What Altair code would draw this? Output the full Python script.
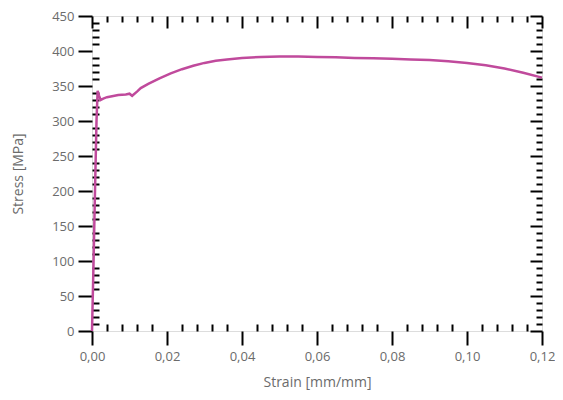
import altair as alt
import pandas as pd

strain = [0.0, 0.0004, 0.0008, 0.0012, 0.0015, 0.0019, 0.0023, 0.003, 0.004, 0.005, 0.007,
          0.009, 0.0100, 0.0107, 0.012, 0.013, 0.015, 0.018, 0.021, 0.024, 0.027, 0.030,
          0.033, 0.036, 0.040, 0.045, 0.050, 0.055, 0.060, 0.065, 0.070, 0.075, 0.080,
          0.085, 0.090, 0.095, 0.100, 0.105, 0.110, 0.115, 0.120]
stress = [0, 95, 200, 300, 343, 336, 330, 332, 334, 335, 337,
          338, 339, 336, 342, 347, 353, 361, 368, 374, 379, 383,
          386, 388, 390, 391.5, 392, 392, 391.5, 391, 390, 389.5, 389,
          388, 387, 385.5, 383, 379.5, 375, 369, 362]

x_major = [0.0, 0.02, 0.04, 0.06, 0.08, 0.10, 0.12]
x_minor = [round(i * 0.004, 3) for i in range(31) if i % 5 != 0]
y_major = list(range(0, 451, 50))
y_minor = [v for v in range(0, 451, 10) if v % 50 != 0]

df = pd.DataFrame({"strain": strain, "stress": stress})

W, H = 450, 315
LINE = "#c04a9c"
GREY = "#6b6b6b"
FONT = "Open Sans"

xs = alt.Scale(domain=[0, 0.12], nice=False, zero=False)
ys = alt.Scale(domain=[0, 450], nice=False)

def ax(orient, values, size, offset=0, labels=False, **kw):
    return alt.Axis(orient=orient, values=values, tickSize=size, offset=offset,
                    labels=labels, domain=False, grid=False, tickColor="black",
                    tickWidth=2, **kw)

x_main = ax("bottom", x_major, 14, labels=True, labelFlush=False, labelOverlap=False,
            labelExpr="replace(format(datum.value, '.2f'), '.', ',')",
            labelPadding=5, labelFont=FONT, labelFontSize=13, labelColor=GREY,
            title="Strain [mm/mm]", titleFont=FONT, titleFontSize=14,
            titleFontWeight="normal", titleColor=GREY, titleY=51,
            titleBaseline="middle")
y_main = ax("left", y_major, 14, labels=True, labelFlush=False, labelOverlap=False,
            labelPadding=4, labelFont=FONT,
            labelFontSize=13, labelColor=GREY, title="Stress [MPa]",
            titleFont=FONT, titleFontSize=14, titleFontWeight="normal",
            titleColor=GREY, titleX=-74, titleBaseline="middle")

base = alt.Chart(df)

line = base.mark_line(color=LINE, strokeWidth=2.5).encode(
    x=alt.X("strain:Q", scale=xs, axis=x_main),
    y=alt.Y("stress:Q", scale=ys, axis=y_main),
)

def ghost(xaxis, yaxis):
    return base.mark_line(opacity=0).encode(
        x=alt.X("strain:Q", scale=xs, axis=xaxis),
        y=alt.Y("stress:Q", scale=ys, axis=yaxis),
    )

# inward minor ticks at bottom and left
g1 = ghost(ax("top", x_minor, 7, offset=-H, title=None),
           ax("right", y_minor, 7, offset=-W, title=None))
# inward minor ticks at top and right
g2 = ghost(ax("bottom", x_minor, 6, offset=-H, title=None),
           ax("left", y_minor, 6, offset=-W, title=None))
# inward major ticks at top and right
g3 = ghost(ax("bottom", x_major, 12, offset=-H, title=None),
           ax("left", y_major, 12, offset=-W, title=None))

chart = alt.layer(line, g1, g2, g3).resolve_axis(
    x="independent", y="independent"
).properties(
    width=W, height=H,
    autosize=alt.AutoSizeParams(type="none"),
    padding={"left": 84, "top": 8, "right": 13, "bottom": 60},
).configure_view(stroke="black", strokeWidth=2.5).configure(background="white")

chart.save("out.html", embed_options={"renderer": "svg", "actions": False})
